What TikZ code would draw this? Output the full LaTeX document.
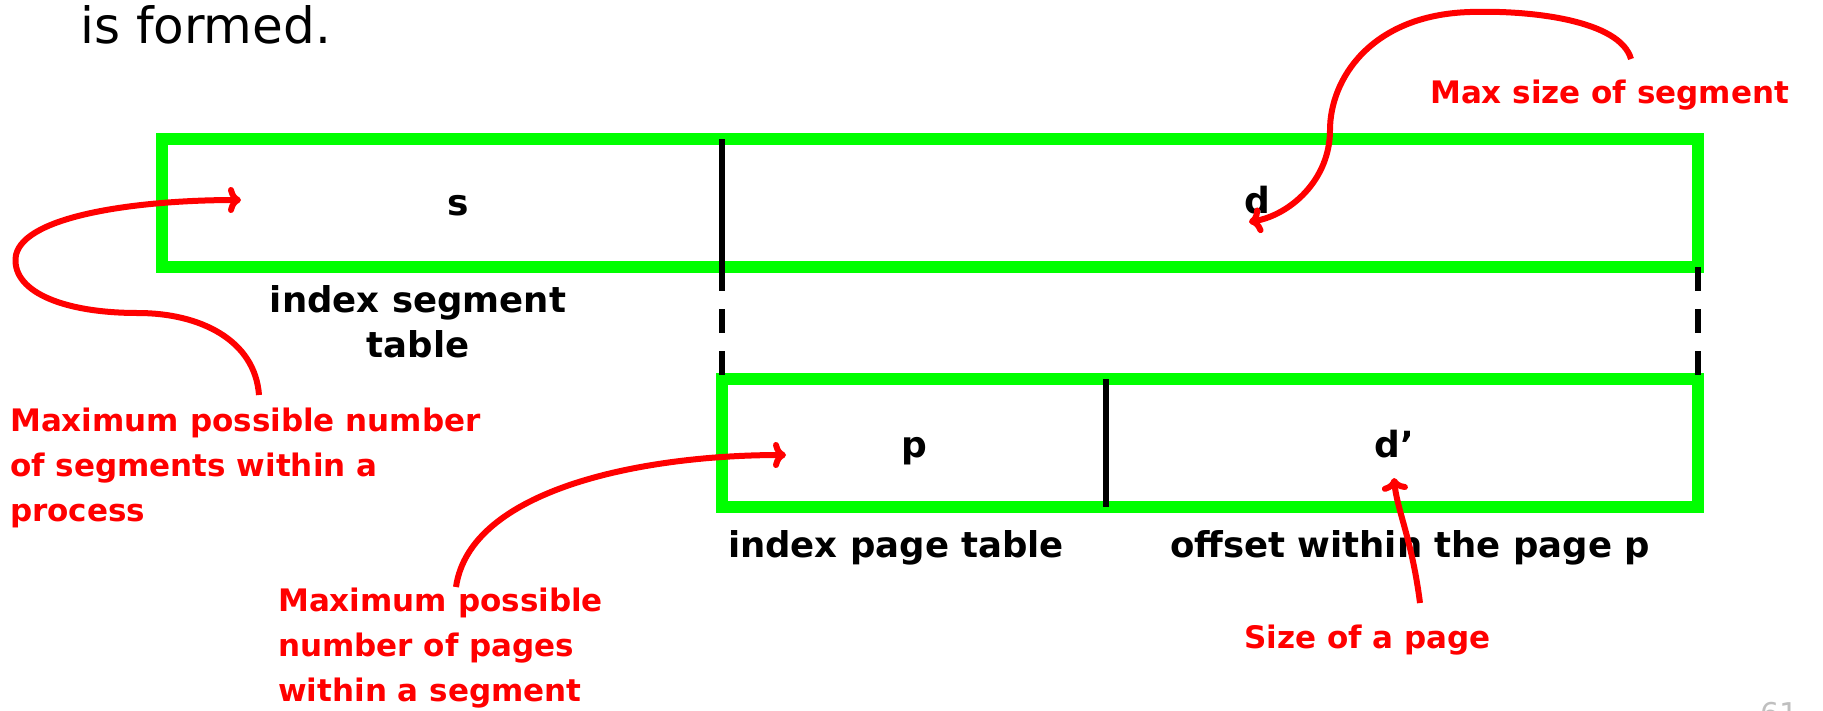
\documentclass[tikz,border=0pt]{standalone}
\usepackage{fontspec}
\setmainfont{DejaVu Sans}
\usetikzlibrary{positioning, arrows.meta}

\begin{document}
\begin{tikzpicture}[x=1pt, y=-1pt, inner sep=0pt,
    field/.style={draw=green, line width=12pt, outer sep=0pt, minimum height=128pt},
    cell/.style={font=\fontsize{36}{44}\selectfont\bfseries, anchor=base},
    caption/.style={font=\fontsize{35.5}{45}\selectfont\bfseries, align=center},
    note/.style={text=red, font=\fontsize{31}{45}\selectfont\bfseries, align=left},
    hint/.style={-{To[length=13pt, width=26pt]}, red, line width=6pt},
    bar/.style={line width=6pt},
    gap/.style={line width=6pt, dash pattern=on 24pt off 18pt}]
  \useasboundingbox (0,0) rectangle (1823,710);

  \node[font=\fontsize{50}{60}\selectfont, anchor=base west] (intro) at (80,43) {is formed.};

  % segment number and offset, then page number and offset
  \node[field, minimum width=1536pt] (seg_box) at (930,203) {};
  \node[field, minimum width=976pt] (page_box) at (1210,443) {};

  \draw[bar] (page_box.north west |- seg_box.north) -- (page_box.north west |- seg_box.south);
  \draw[gap] (page_box.north west |- seg_box.south) -- (page_box.north west);
  \draw[gap] (seg_box.south east) -- (page_box.north east);
  \draw[bar] ([xshift=384pt]page_box.north west) -- ([xshift=384pt]page_box.south west);

  \node[cell] (s) at (458,215) {s};
  \node[cell] (d) at (1257,213) {d};
  \node[cell] (p) at (914,457) {p};
  \node[cell] (d_1) at (1394,457) {d'};

  \node[caption, anchor=north] (s_cap) at (418,285) {index segment\\table};
  \node[caption, anchor=base] (p_cap) at (896,557) {index page table};
  \node[caption, anchor=base] (d_1_cap) at (1410,557) {offset within the page p};

  % red remarks
  \node[note, anchor=base west] (d_note) at (1430,103) {Max size of segment};
  \node[note, anchor=north west] (s_note) at (10,408) {Maximum possible number\\of segments within a\\process};
  \node[note, anchor=north west] (p_note) at (278,588) {Maximum possible\\number of pages\\within a segment};
  \node[note, anchor=base west] (d_1_note) at (1244,648) {Size of a page};

  \coordinate (s_from) at (259,395);
  \coordinate (s_tip) at (241,200);
  \coordinate (d_from) at (1631,59);
  \coordinate (d_tip) at (1249,222);
  \coordinate (p_from) at (456,587);
  \coordinate (p_tip) at (786,455);
  \coordinate (d_1_from) at (1420,603);
  \coordinate (d_1_tip) at (1394,478);

  \draw[hint] (s_from) .. controls (255,340) and (200,313) .. (138,313)
    .. controls (60,313) and (10,290) .. (16,255)
    .. controls (25,215) and (140,200) .. (s_tip);
  \draw[hint] (d_from) .. controls (1620,20) and (1530,10) .. (1470,12)
    .. controls (1370,15) and (1330,80) .. (1330,130)
    .. controls (1330,180) and (1290,215) .. (d_tip);
  \draw[hint] (p_from) .. controls (470,490) and (640,455) .. (p_tip);
  \draw[hint] (d_1_from) .. controls (1412,540) and (1397,510) .. (d_1_tip);

  \node[text=gray!50, font=\fontsize{30}{36}\selectfont, anchor=north west] (page_no) at (1760,702) {61};
\end{tikzpicture}
\end{document}
